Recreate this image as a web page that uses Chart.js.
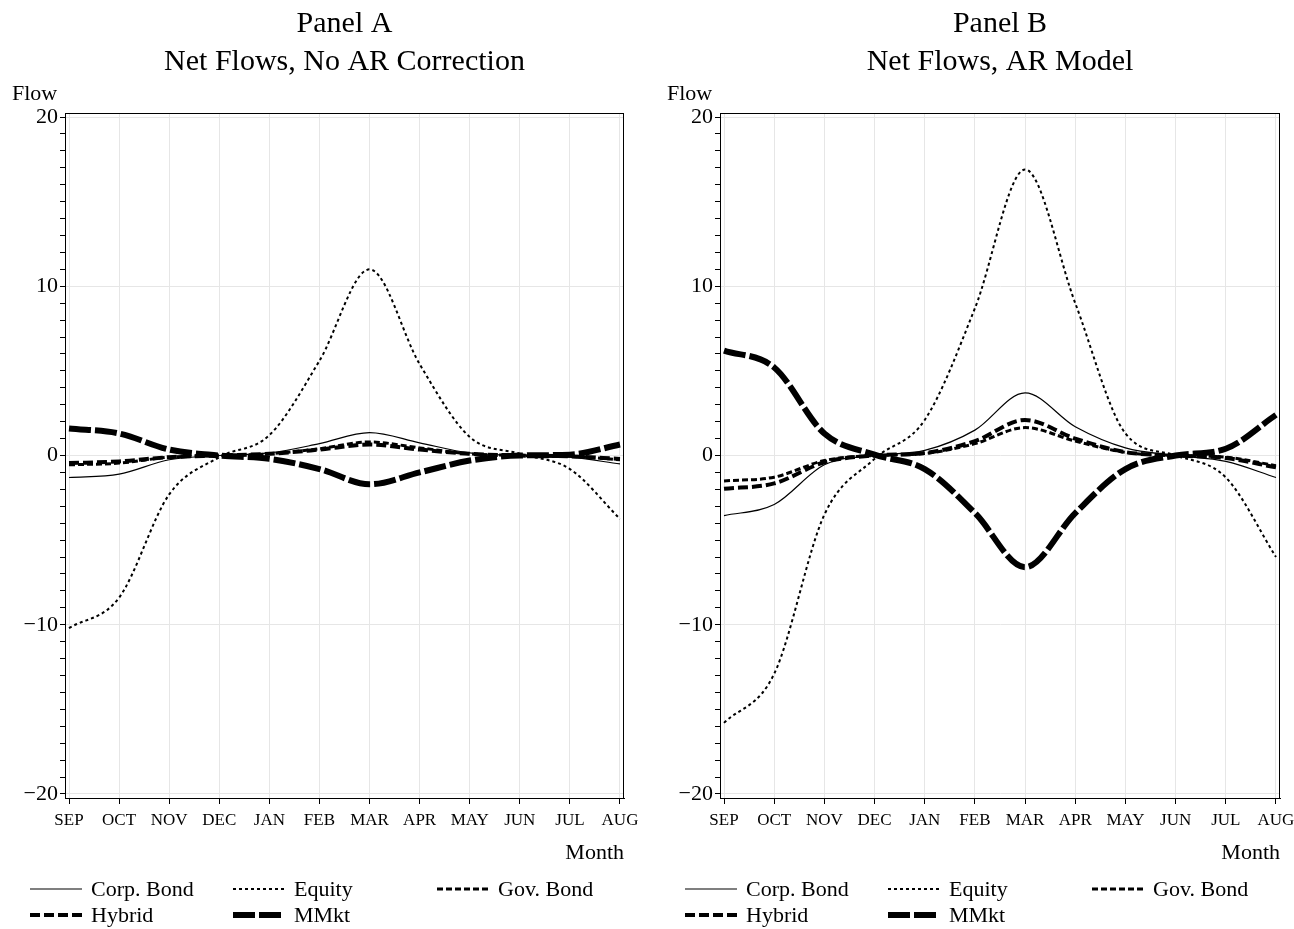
<!DOCTYPE html>
<html>
<head>
<meta charset="utf-8">
<script src="https://cdn.jsdelivr.net/npm/chart.js@4.4.1/dist/chart.umd.min.js"></script>
<style>
  body { margin: 0; background: #fff; }
  #wrap { position: relative; width: 1294px; height: 929px; }
  canvas { position: absolute; top: 0; }
  #panelA { left: 0; }
  #panelB { left: 655px; }
</style>
</head>
<body>
<div id="wrap">
  <canvas id="panelA" width="655" height="929"></canvas>
  <canvas id="panelB" width="639" height="929"></canvas>
</div>
<script>
const months = ['SEP', 'OCT', 'NOV', 'DEC', 'JAN', 'FEB', 'MAR', 'APR', 'MAY', 'JUN', 'JUL', 'AUG'];
const yLabels = [-20, -10, 0, 10, 20];

// Panel A: net flows, no AR correction
const corpA   = [-1.3, -1.1, -0.25, 0, 0.15, 0.7, 1.35, 0.75, 0.15, 0, -0.1, -0.5];
const equityA = [-10.2, -8.4, -2.3, -0.1, 1.2, 5.6, 11.0, 5.4, 1.1, 0.1, -0.8, -3.75];
const govA    = [-0.55, -0.45, -0.1, 0, 0.1, 0.4, 0.8, 0.45, 0.1, 0, -0.05, -0.25];
const hybridA = [-0.45, -0.35, -0.1, 0, 0.1, 0.35, 0.65, 0.35, 0.1, 0, -0.05, -0.2];
const mmktA   = [1.6, 1.3, 0.35, 0, -0.2, -0.8, -1.7, -1.0, -0.3, 0, 0.05, 0.65];

// Panel B: net flows, AR model
const corpB   = [-3.55, -2.9, -0.55, 0, 0.3, 1.5, 3.7, 1.7, 0.45, 0, -0.35, -1.3];
const equityB = [-15.8, -12.9, -3.5, -0.2, 2.1, 8.7, 16.9, 9.0, 1.3, 0, -1.3, -6.0];
const govB    = [-1.5, -1.28, -0.3, 0, 0.12, 0.7, 1.65, 0.85, 0.18, 0, -0.1, -0.6];
const hybridB = [-1.97, -1.65, -0.4, 0, 0.15, 0.85, 2.1, 1.0, 0.2, 0, -0.15, -0.7];
const mmktB   = [6.2, 5.2, 1.3, 0.05, -0.8, -3.4, -6.6, -3.4, -0.8, 0, 0.4, 2.4];

const serif = '"Liberation Serif", "DejaVu Serif", serif';

// line look for each fund type
const styles = {
    'Corp. Bond': { width: 1.2, dash: [] },
    'Equity':     { width: 2,   dash: [3, 3] },
    'Gov. Bond':  { width: 3,   dash: [6, 3] },
    'Hybrid':     { width: 4,   dash: [10, 4] },
    'MMkt':       { width: 6,   dash: [22, 4] },
};

function toPoints(values) {
    return values.map((v, i) => ({ x: i, y: v }));
}

function buildDatasets(series) {
    return Object.keys(series).map(name => ({
        label: name,
        data: toPoints(series[name]),
        borderColor: '#000',
        borderWidth: styles[name].width,
        borderDash: styles[name].dash,
        borderCapStyle: 'butt',
        pointRadius: 0,
        fill: false,
        cubicInterpolationMode: 'monotone',
    }));
}

// frame, titles, "Flow" label and the 3-column legend
const panelDecor = {
    id: 'panelDecor',
    afterDraw(chart, args, opts) {
        const { ctx, chartArea } = chart;
        ctx.save();
        ctx.strokeStyle = '#000';
        ctx.lineWidth = 1;
        ctx.setLineDash([]);
        ctx.strokeRect(chartArea.left + 0.5, chartArea.top + 0.5,
            chartArea.right - chartArea.left - 1, chartArea.bottom - chartArea.top);

        ctx.fillStyle = '#000';
        ctx.textAlign = 'center';
        ctx.textBaseline = 'alphabetic';
        ctx.font = '30px ' + serif;
        const cx = (chartArea.left + chartArea.right) / 2;
        opts.title.forEach((line, i) => ctx.fillText(line, cx, 32 + i * 38));

        ctx.textAlign = 'left';
        ctx.font = '22px ' + serif;
        ctx.fillText('Flow', chartArea.left - 53, 100);

        const cols = [-35, 168, 372];
        const rows = [889, 915];
        chart.data.datasets.forEach((ds, i) => {
            const x = chartArea.left + cols[i % 3];
            const y = rows[Math.floor(i / 3)];
            ctx.beginPath();
            ctx.lineWidth = ds.borderWidth;
            ctx.setLineDash(ds.borderDash);
            ctx.moveTo(x, y);
            ctx.lineTo(x + 52, y);
            ctx.stroke();
            ctx.setLineDash([]);
            ctx.textBaseline = 'middle';
            ctx.fillText(ds.label, x + 61, y + 1);
        });
        ctx.restore();
    }
};

function makeChart(id, title, series, padRight) {
    const ctx = document.getElementById(id).getContext('2d');
    return new Chart(ctx, {
        type: 'line',
        data: { datasets: buildDatasets(series) },
        options: {
            responsive: false,
            animation: false,
            layout: { padding: { top: 113, right: padRight, bottom: 61, left: 0 } },
            plugins: {
                legend: { display: false },
                tooltip: { enabled: false },
                panelDecor: { title: title },
            },
            scales: {
                x: {
                    type: 'linear',
                    min: -0.08,
                    max: 11.08,
                    afterBuildTicks: scale => { scale.ticks = months.map((m, i) => ({ value: i })); },
                    afterFit: scale => {
                        scale.height = 70;
                        scale.paddingLeft = 0;
                        scale.paddingRight = 0;
                    },
                    border: { color: '#000', width: 1 },
                    grid: { color: '#e6e6e6', tickColor: '#000', tickLength: 6, lineWidth: 1 },
                    ticks: {
                        autoSkip: false,
                        maxRotation: 0,
                        padding: 6,
                        color: '#000',
                        font: { family: serif, size: 17 },
                        callback: v => months[v],
                    },
                    title: {
                        display: true,
                        text: 'Month',
                        align: 'end',
                        color: '#000',
                        font: { family: serif, size: 22 },
                        padding: { top: 0, bottom: 2 },
                    },
                },
                y: {
                    min: -20.24,
                    max: 20.24,
                    afterBuildTicks: scale => {
                        const t = [];
                        for (let v = yLabels[0]; v <= yLabels[yLabels.length - 1]; v++) t.push({ value: v });
                        scale.ticks = t;
                    },
                    afterFit: scale => { scale.width = 65; },
                    border: { color: '#000', width: 1 },
                    grid: {
                        color: c => (c.tick && yLabels.includes(c.tick.value)) ? '#e6e6e6' : 'rgba(0,0,0,0)',
                        tickColor: '#000',
                        tickLength: 5,
                    },
                    ticks: {
                        autoSkip: false,
                        padding: 2,
                        color: '#000',
                        font: { family: serif, size: 22 },
                        callback: v => yLabels.includes(v) ? String(v).replace('-', '\u2212') : '',
                    },
                },
            },
        },
        plugins: [panelDecor],
    });
}

makeChart('panelA', ['Panel A', 'Net Flows, No AR Correction'], {
    'Corp. Bond': corpA,
    'Equity': equityA,
    'Gov. Bond': govA,
    'Hybrid': hybridA,
    'MMkt': mmktA,
}, 31);

makeChart('panelB', ['Panel B', 'Net Flows, AR Model'], {
    'Corp. Bond': corpB,
    'Equity': equityB,
    'Gov. Bond': govB,
    'Hybrid': hybridB,
    'MMkt': mmktB,
}, 14);
</script>
</body>
</html>
